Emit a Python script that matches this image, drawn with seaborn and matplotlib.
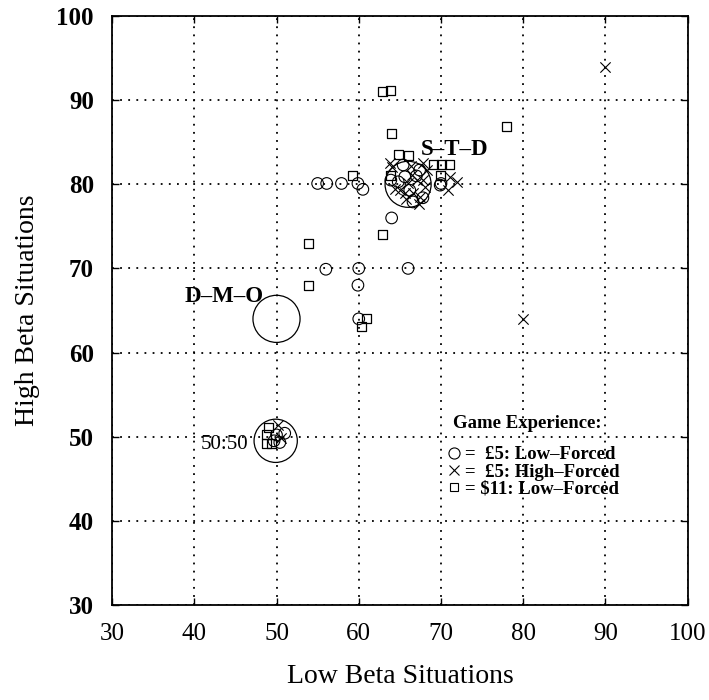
"""Game experience scatter: low beta vs high beta situations"""
import numpy as np
import pandas as pd
import seaborn as sns
import matplotlib.pyplot as plt
from matplotlib.lines import Line2D

# £5 Low-Forced (circles)
low5_x = [55.0, 56.1, 57.9, 59.9, 60.5, 64.0, 69.9, 56.0, 60.0, 66.0, 59.9, 60.0,
          65.4, 65.6, 64.8, 67.4, 66.6, 67.8, 63.9, 70.0, 66.2, 67.0,
          50.0, 51.0, 50.4, 49.7]
low5_y = [80.1, 80.1, 80.1, 80.1, 79.4, 76.0, 79.9, 69.9, 70.0, 70.0, 68.0, 64.0,
          82.3, 80.9, 80.3, 81.7, 77.9, 78.4, 80.5, 80.1, 79.3, 81.0,
          50.2, 50.4, 49.3, 49.5]

# £5 High-Forced (crosses)
high5_x = [90.0, 80.0, 63.8, 67.8, 71.1, 71.9, 70.8, 64.1, 65.0, 66.0, 66.6, 67.4,
           68.0, 66.5, 67.1, 67.8, 65.6, 64.4, 68.3, 65.8, 67.3, 66.3,
           50.2, 50.6]
high5_y = [94.0, 64.0, 82.5, 82.5, 80.9, 80.3, 79.3, 82.0, 79.3, 80.1, 79.0, 78.5,
           79.7, 81.1, 80.5, 80.5, 79.0, 79.5, 81.7, 78.3, 77.6, 82.2,
           51.4, 49.8]

# $11 Low-Forced (squares)
usd11_x = [62.9, 63.9, 64.0, 78.0, 59.2, 53.9, 53.9, 62.9, 61.0, 60.3, 64.8, 66.0,
           63.9, 69.1, 70.1, 71.0, 69.9,
           49.0, 48.8, 48.8, 49.4]
usd11_y = [91.0, 91.2, 86.0, 86.9, 81.0, 73.0, 68.0, 74.0, 64.0, 63.1, 83.5, 83.4,
           81.1, 82.3, 82.3, 82.3, 81.1,
           51.1, 50.2, 49.2, 49.2]

# reference strategies (big circles)
ref_names = ['S\u2013T\u2013D', 'D\u2013M\u2013O', '50:50']
ref_x = [66.0, 50.0, 49.9]
ref_y = [80.0, 64.0, 49.5]

x_ticks = [30, 40, 50, 60, 70, 80, 90, 100]
y_ticks = [30, 40, 50, 60, 70, 80, 90, 100]

legend_labels = ['=  £5: Low\u2013Forced', '=  £5: High\u2013Forced', '= $11: Low\u2013Forced']

sns.set_style('ticks')
plt.rcParams['font.family'] = ['Liberation Serif', 'DejaVu Serif']
plt.rcParams['text.color'] = 'black'
plt.rcParams['axes.labelcolor'] = 'black'

fig, ax = plt.subplots(figsize=(7.09, 7.0), dpi=100)
fig.subplots_adjust(left=0.158, right=0.970, bottom=0.136, top=0.977)

ax.grid(True, color='black', linestyle=(0, (1, 3.5)), linewidth=1.3)
ax.set_axisbelow(True)

# big reference circles
sizes = [1100, 1150, 970]
for x, y, s in zip(ref_x, ref_y, sizes):
    sns.scatterplot(x=[x], y=[y], ax=ax, marker='o', s=s, facecolors='none',
                    edgecolor='black', linewidth=0.9, zorder=3)

sns.scatterplot(x=low5_x, y=low5_y, ax=ax, marker='o', s=70,
                facecolors='none', edgecolor='black', linewidth=0.8, zorder=4)
sns.scatterplot(x=high5_x, y=high5_y, ax=ax, marker='x', s=55,
                color='black', linewidth=0.8, zorder=4)
sns.scatterplot(x=usd11_x, y=usd11_y, ax=ax, marker='s', s=42,
                facecolors='none', edgecolor='black', linewidth=0.9, zorder=4)

# labels for reference circles
ax.annotate(ref_names[0], (ref_x[0], ref_y[0]), xytext=(9, 25), textcoords='offset points',
            ha='left', va='center', fontsize=16.5, fontweight='bold')
ax.annotate(ref_names[1], (ref_x[1], ref_y[1]), xytext=(-9, 16), textcoords='offset points',
            ha='right', va='center', fontsize=16.5, fontweight='bold')
ax.annotate(ref_names[2], (ref_x[2], ref_y[2]), xytext=(-20, -3), textcoords='offset points',
            ha='right', va='center', fontsize=15)

ax.set_xlim(30, 100)
ax.set_ylim(30, 100)
ax.set_xticks(x_ticks)
ax.set_yticks(y_ticks)
ax.tick_params(direction='in', length=5, width=1, top=True, right=True,
               labelsize=18, pad=13, colors='black')
for lab in ax.get_yticklabels():
    lab.set_fontweight('bold')
for side in ['left', 'right', 'top', 'bottom']:
    ax.spines[side].set_color('black')
    ax.spines[side].set_linewidth(1.3)

ax.set_xlabel('Low Beta Situations', fontsize=20, labelpad=14)
ax.set_ylabel('High Beta Situations', fontsize=20, labelpad=12)

# legend
ax.text(0.592, 0.308, 'Game Experience:', transform=ax.transAxes,
        ha='left', va='center', fontsize=13.5, fontweight='bold')
handles = [
    Line2D([], [], marker='o', linestyle='none', markerfacecolor='none',
           markeredgecolor='black', markersize=8, markeredgewidth=0.8),
    Line2D([], [], marker='x', linestyle='none', color='black',
           markersize=7, markeredgewidth=0.8),
    Line2D([], [], marker='s', linestyle='none', markerfacecolor='none',
           markeredgecolor='black', markersize=6, markeredgewidth=0.8),
]
leg = ax.legend(handles, legend_labels, frameon=False,
                loc='upper left', bbox_to_anchor=(0.565, 0.282),
                prop={'size': 13.5, 'weight': 'bold'}, handletextpad=0.1,
                handlelength=1.0, labelspacing=0.0, borderaxespad=0)

fig.savefig('out.png', dpi=100)
